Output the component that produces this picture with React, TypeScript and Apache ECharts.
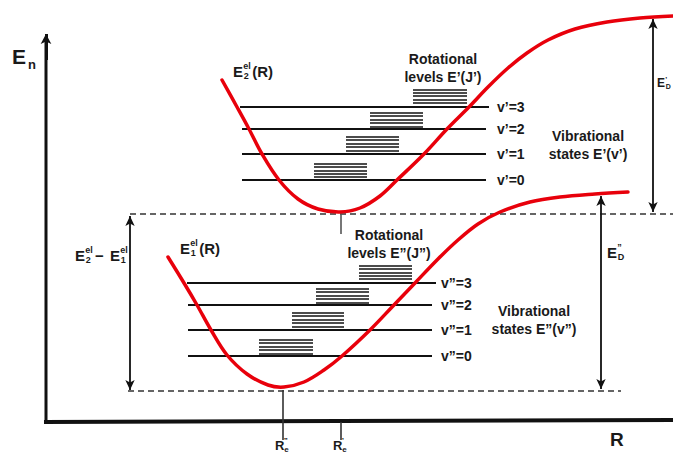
import React, { useEffect, useRef } from "react";
import * as echarts from "echarts";

// Potential curves (R, E) (E axis grows downward in page units)
const upperCurve: number[][] = [
  [222, 80], [237, 107], [249, 129], [262, 154], [279, 180], [298, 199], [318, 209], [340, 212],
  [360, 208], [380, 196], [397, 180], [424, 154], [447, 129], [469, 107], [488, 87], [508, 68],
  [527, 53], [548, 40], [575, 29], [607, 22], [640, 18], [673, 16],
];
const lowerCurve: number[][] = [
  [168, 257], [184, 283], [197, 305], [211, 330], [227, 355], [247, 374], [268, 385], [284, 387],
  [304, 382], [324, 370], [342, 356], [370, 330], [393, 306], [415, 283], [438, 259], [458, 240],
  [478, 224], [500, 212], [530, 202], [560, 197], [595, 194], [628, 192],
];

// Vibrational levels
const upperLevelLabels = ["v’=0", "v’=1", "v’=2", "v’=3"];
const upperLevelE = [180, 154, 129, 107];
const upperLevelR = [[242, 486], [242, 486], [242, 486], [240, 489]];
const lowerLevelLabels = ["v”=0", "v”=1", "v”=2", "v”=3"];
const lowerLevelE = [356, 330, 305, 283];
const lowerLevelR = [[188, 432], [188, 432], [188, 432], [187, 436]];

// Rotational level stacks
const upperRotE = [
  [164, 167, 171, 174, 177],
  [137, 140, 144, 147, 151],
  [113, 116, 120, 123, 127],
  [90, 93, 96, 100, 103],
];
const upperRotR = [[314, 367], [346, 399], [370, 423], [413, 467]];
const lowerRotE = [
  [340, 343, 347, 350, 354],
  [313, 316, 320, 323, 327],
  [289, 292, 296, 299, 303],
  [266, 269, 273, 276, 279],
];
const lowerRotR = [[259, 313], [292, 344], [316, 369], [359, 412]];

// Reference lines
const dashedLines = [
  [[130, 214], [673, 214]],
  [[128, 391], [621, 391]],
];
const ticks = [
  [[283, 390], [283, 440]],
  [[341, 422], [341, 440]],
  [[341, 213], [341, 234]],
];
const doubleArrows = [
  [[130, 216], [130, 390]],
  [[601, 196], [601, 389]],
  [[653, 19], [653, 212]],
];
const axisY = [[46, 422], [46, 40]];
const axisX = [[44, 422], [673, 420]];

const FONT = "'Liberation Sans', Arial, sans-serif";
const INK = "#1a1a1a";
const RED = "#e8000b";

function txt(x: number, y: number, text: string, size: number, align = "left", extra: any = {}) {
  return {
    type: "text",
    x,
    y,
    silent: true,
    style: {
      text,
      fill: INK,
      font: `bold ${size}px ${FONT}`,
      textAlign: align,
      textVerticalAlign: "middle",
      ...extra,
    },
  };
}

function supSub(x: number, y: number, main: string, sup: string, sub: string, size: number, tail = "") {
  const w = size * 0.68;
  const s = Math.round(size * 0.6);
  const items: any[] = [
    txt(x, y, main, size),
    txt(x + w, y - size * 0.33, sup, s),
    txt(x + w + 0.5, y + size * 0.33, sub, s),
  ];
  if (tail) items.push(txt(x + w + s * 1.0, y, tail, size));
  return items;
}

function curveSeries(points: number[][]) {
  return {
    type: "custom",
    data: points,
    encode: { x: 0, y: 1 },
    silent: true,
    z: 5,
    renderItem: (params: any, api: any) => {
      if (params.dataIndex !== 0) return null;
      return {
        type: "polyline",
        shape: { points: points.map((p) => api.coord(p)), smooth: 0.35 },
        style: { stroke: RED, lineWidth: 3.5, fill: "none", lineCap: "round", lineJoin: "round" },
      };
    },
  };
}

export default function App() {
  const ref = useRef<HTMLDivElement>(null);
  useEffect(() => {
    if (!ref.current) return;
    const chart = echarts.init(ref.current, undefined, { renderer: "svg" });

    const seg = (data: number[][], color: string, width: number, type: any = "solid", z = 2) => ({
      type: "line",
      data,
      showSymbol: false,
      symbol: "none",
      silent: true,
      z,
      lineStyle: { color, width, type },
    });

    const series: any[] = [];
    series.push({
      ...seg(axisY, "#111", 3),
      markLine: {
        silent: true,
        symbol: ["none", "arrow"],
        symbolSize: [8, 10],
        label: { show: false },
        lineStyle: { color: "#111", width: 3, type: "solid" },
        data: [[{ coord: [46, 60] }, { coord: [46, 34] }]],
      },
    });
    series.push(seg(axisX, "#111", 4));
    dashedLines.forEach((d) => series.push(seg(d, "#333", 1.5, [6, 4])));
    ticks.forEach((d, i) => series.push(seg(d, i === 2 ? "#555" : "#333", 1.6)));
    upperLevelE.forEach((e, i) => series.push(seg([[upperLevelR[i][0], e], [upperLevelR[i][1], e]], "#111", 2)));
    lowerLevelE.forEach((e, i) => series.push(seg([[lowerLevelR[i][0], e], [lowerLevelR[i][1], e]], "#111", 2)));
    upperRotE.forEach((ys, i) =>
      ys.forEach((e) => series.push(seg([[upperRotR[i][0], e], [upperRotR[i][1], e]], "#111", 1.5)))
    );
    lowerRotE.forEach((ys, i) =>
      ys.forEach((e) => series.push(seg([[lowerRotR[i][0], e], [lowerRotR[i][1], e]], "#111", 1.5)))
    );
    series.push(curveSeries(upperCurve));
    series.push(curveSeries(lowerCurve));
    series.push({
      type: "line",
      data: [],
      silent: true,
      markLine: {
        silent: true,
        symbol: ["arrow", "arrow"],
        symbolSize: [7, 10],
        label: { show: false },
        lineStyle: { color: "#111", width: 1.8, type: "solid" },
        data: doubleArrows.map((d) => [{ coord: d[0] }, { coord: d[1] }]),
      },
    });

    const graphics: any[] = [
      txt(12, 56, "E", 21),
      txt(28, 64, "n", 13),
      txt(610, 439, "R", 19),
      ...supSub(233, 71, "E", "el", "2", 15, "(R)"),
      ...supSub(180, 248, "E", "el", "1", 15, "(R)"),
      ...supSub(75, 255, "E", "el", "2", 15),
      txt(95, 255, "−", 15),
      ...supSub(110, 255, "E", "el", "1", 15),
      ...supSub(607, 252, "E", "”", "D", 15),
      ...supSub(657, 83, "E", "’", "D", 12),
      ...supSub(275, 445, "R", "”", "e", 13),
      ...supSub(333, 445, "R", "’", "e", 13),
      txt(443, 59, "Rotational", 14, "center"),
      txt(443, 77, "levels E’(J’)", 14, "center"),
      txt(588, 136, "Vibrational", 14, "center"),
      txt(588, 154, "states E’(v’)", 14, "center"),
      txt(389, 235, "Rotational", 14, "center"),
      txt(389, 253, "levels E”(J”)", 14, "center"),
      txt(534, 311, "Vibrational", 14, "center"),
      txt(534, 329, "states E”(v”)", 14, "center"),
    ];
    upperLevelE.forEach((e, i) => graphics.push(txt(497, e, upperLevelLabels[i], 14)));
    lowerLevelE.forEach((e, i) => graphics.push(txt(441, e, lowerLevelLabels[i], 14)));

    chart.setOption({
      animation: false,
      backgroundColor: "#ffffff",
      grid: { left: 0, right: 0, top: 0, bottom: 0 },
      xAxis: { type: "value", min: 0, max: 673, show: false },
      yAxis: { type: "value", min: 0, max: 454, inverse: true, show: false },
      series,
      graphic: graphics,
    });
    return () => chart.dispose();
  }, []);
  return (
    <div
      ref={ref}
      style={{ position: "fixed", left: 0, top: 0, width: 673, height: 454, background: "#fff" }}
    />
  );
}
